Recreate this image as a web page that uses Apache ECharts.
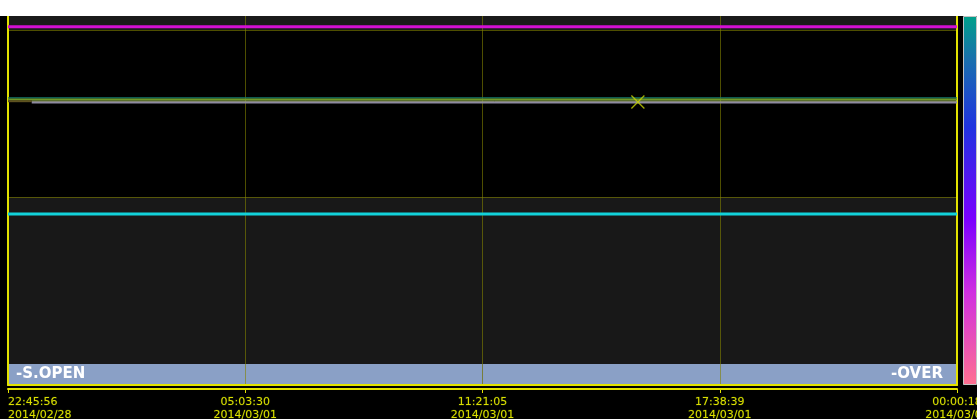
<!DOCTYPE html>
<html>
<head>
<meta charset="utf-8">
<script src="https://cdn.jsdelivr.net/npm/echarts@6/dist/echarts.min.js"></script>
<style>
  html, body { margin: 0; padding: 0; background: #ffffff; }
  #top { width: 977px; height: 16px; background: #ffffff; }
  #chart { width: 977px; height: 403px; }
</style>
</head>
<body>
<div id="top"></div>
<div id="chart"></div>
<script>
// ---- data (x in axis-division units 0..4, y in trend units, 0 = top of panel) ----
const tickLabels = [
  '22:45:56\n2014/02/28',
  '05:03:30\n2014/03/01',
  '11:21:05\n2014/03/01',
  '17:38:39\n2014/03/01',
  '00:00:18\n2014/03/02'
];
const xRange = [0, 4];
const magentaLine = [[0, 10.7], [4, 10.7]];
const tealLine = [[0, 81.8], [4, 81.8]];
const greenLine = [[0, 83.5], [4, 83.5]];
const lightGreenLine = [[0.1, 85.2], [4, 85.2]];
const brownStart = [[0, 85.2], [0.1, 85.2]];
const grayLine = [[0.1, 86.6], [4, 86.6]];
const cyanLine = [[0, 198], [4, 198]];
const crossMarker = [[2.655, 86]];
const panelBounds = [0, 14, 181, 348, 368];
const bandLabels = ['-S.OPEN', '-OVER'];

const chart = echarts.init(document.getElementById('chart'), null, { renderer: 'canvas' });

const yellow = '#e2e200';
const olive = 'rgba(130,130,0,0.6)';

const lineSeries = (data, color, width, z) => ({
  type: 'line', data, symbol: 'none', silent: true, animation: false,
  lineStyle: { color, width }, z: z || 4
});

const option = {
  backgroundColor: '#000000',
  animation: false,
  grid: { left: 8, right: 20, top: 0, bottom: 34, show: false, outerBoundsMode: 'none', containLabel: false },
  xAxis: [
    {
      type: 'value', min: xRange[0], max: xRange[1], interval: 1, position: 'bottom', z: 3,
      axisLine: { show: true, onZero: false, lineStyle: { color: yellow, width: 2 } },
      axisTick: { show: false }, axisLabel: { show: false },
      splitLine: { show: true, lineStyle: { color: olive, width: 1 } }
    },
    {
      type: 'value', min: xRange[0], max: xRange[1], interval: 1, position: 'bottom', offset: 4, z: 3,
      axisLine: { show: true, onZero: false, lineStyle: { color: yellow, width: 2 } },
      axisTick: { show: true, length: 4, lineStyle: { color: yellow, width: 1 } },
      splitLine: { show: false },
      axisLabel: {
        show: true, margin: 7, color: '#dede00',
        fontFamily: 'DejaVu Sans', fontSize: 11, lineHeight: 12.5,
        textBorderColor: 'rgba(40,60,0,0.8)', textBorderWidth: 0.8,
        alignMinLabel: 'left', showMinLabel: true, showMaxLabel: true,
        hideOverlap: false,
        formatter: v => tickLabels[Math.round(v)]
      }
    }
  ],
  yAxis: [
    {
      type: 'value', min: 0, max: 369, inverse: true, position: 'left', z: 3,
      axisLine: { show: true, onZero: false, lineStyle: { color: yellow, width: 2 } },
      axisTick: { show: false }, axisLabel: { show: false }, splitLine: { show: false }
    },
    {
      type: 'value', min: 0, max: 369, inverse: true, position: 'right', z: 3,
      axisLine: { show: true, onZero: false, lineStyle: { color: yellow, width: 2 } },
      axisTick: { show: false }, axisLabel: { show: false }, splitLine: { show: false }
    }
  ],
  series: [
    {
      type: 'line', data: [], silent: true, z: 0,
      markArea: {
        silent: true, z: 0,
        data: [
          [{ yAxis: panelBounds[0], itemStyle: { color: '#1a1a1a' } }, { yAxis: panelBounds[1] }],
          [{ yAxis: panelBounds[2], itemStyle: { color: '#181818' } }, { yAxis: panelBounds[3] }],
          [{ yAxis: panelBounds[3], xAxis: xRange[0], itemStyle: { color: '#8aa0c6' },
             label: { show: true, position: 'insideLeft', formatter: bandLabels[0], color: '#ffffff',
                      fontFamily: 'DejaVu Sans', fontWeight: 'bold', fontSize: 15, distance: 8 } },
           { yAxis: panelBounds[4], xAxis: 2 }],
          [{ yAxis: panelBounds[3], xAxis: 2, itemStyle: { color: '#8aa0c6' },
             label: { show: true, position: 'insideRight', formatter: bandLabels[1], color: '#ffffff',
                      fontFamily: 'DejaVu Sans', fontWeight: 'bold', fontSize: 15, distance: 14 } },
           { yAxis: panelBounds[4], xAxis: xRange[1] }]
        ]
      },
      markLine: {
        silent: true, symbol: 'none', label: { show: false }, z: 1,
        lineStyle: { color: olive, width: 1.2, type: 'solid' },
        data: [{ yAxis: panelBounds[1] }, { yAxis: panelBounds[2] }]
      }
    },
    lineSeries(magentaLine, '#d410d4', 3),
    lineSeries(tealLine, '#14786c', 1.2),
    lineSeries(greenLine, '#6f9a26', 2),
    lineSeries(lightGreenLine, '#a8b868', 1),
    lineSeries(brownStart, '#5e5220', 2),
    lineSeries(grayLine, '#8e8aa0', 2),
    lineSeries(cyanLine, '#12d2da', 3),
    {
      type: 'scatter', data: crossMarker, z: 6, silent: true,
      symbol: 'path://M0,0L10,10M10,0L0,10', symbolSize: 13,
      itemStyle: { color: 'rgba(0,0,0,0)', borderColor: '#c8d400', borderWidth: 1.3 }
    }
  ],
  graphic: [
    {
      type: 'rect', silent: true, z: 10,
      shape: { x: 963.5, y: 0.5, width: 13, height: 368 },
      style: {
        stroke: '#c4c4c4', lineWidth: 1,
        fill: new echarts.graphic.LinearGradient(0, 0, 0, 1, [
          { offset: 0, color: '#00a08a' },
          { offset: 0.12, color: '#1a6fae' },
          { offset: 0.3, color: '#2034e0' },
          { offset: 0.55, color: '#7a00ff' },
          { offset: 0.75, color: '#d030e0' },
          { offset: 1, color: '#ff7090' }
        ])
      }
    }
  ]
};

chart.setOption(option);
</script>
</body>
</html>
